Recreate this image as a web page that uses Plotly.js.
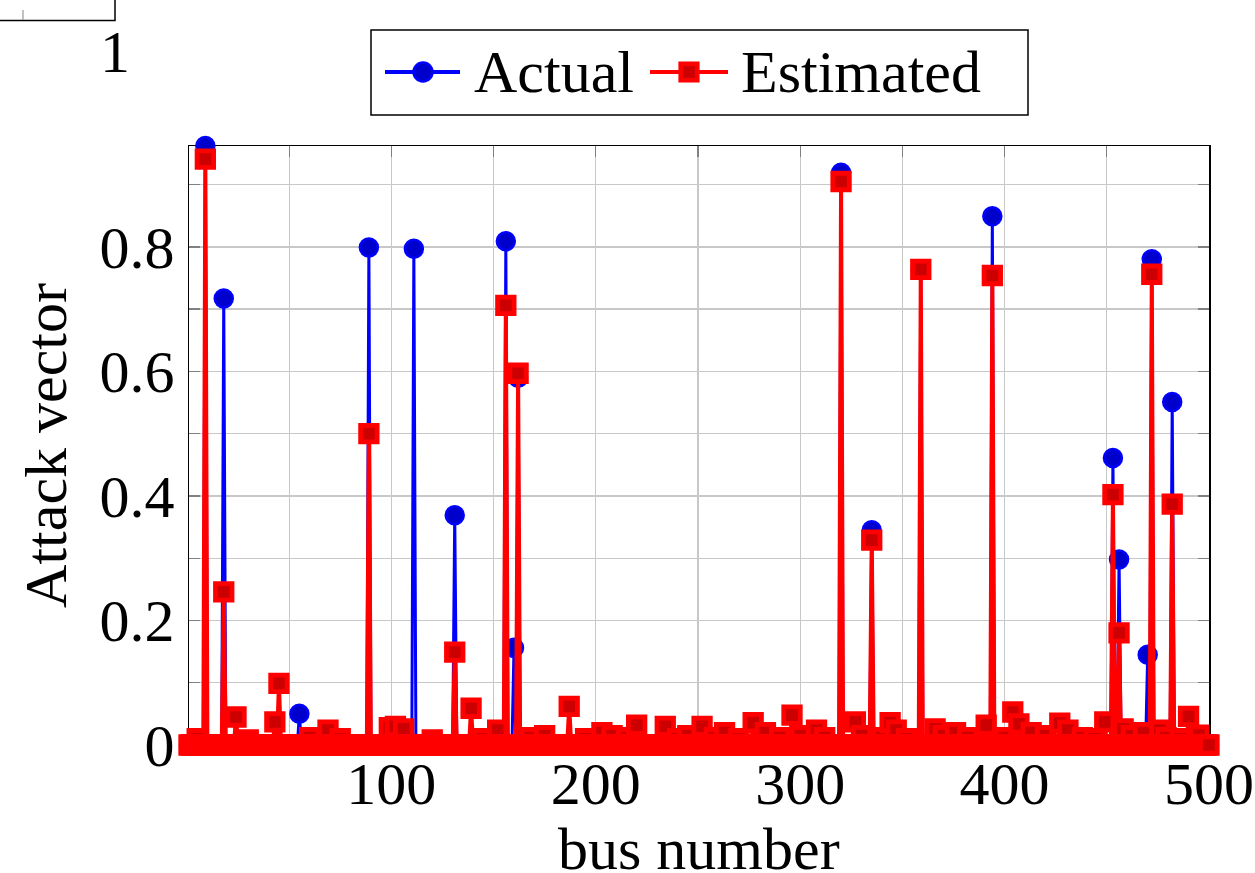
<!DOCTYPE html>
<html>
<head>
<meta charset="utf-8">
<script src="https://cdn.plot.ly/plotly-3.0.1.min.js"></script>
<style>
  html, body { margin: 0; padding: 0; background: #ffffff; }
  #chart { width: 1255px; height: 873px; }
</style>
</head>
<body>
<div id="chart"></div>
<script>
// ---------------- data ----------------
const busCount = 500;                       // buses 1..500
const seriesNames = ["Actual", "Estimated"];
const xTitle = "bus number";
const yTitle = "Attack vector";
const xTickValues = [100, 200, 300, 400, 500];
const xTickLabels = ["100", "200", "300", "400", "500"];
const yTickValues = [0, 0.2, 0.4, 0.6, 0.8];
const yTickLabels = ["0", "0.2", "0.4", "0.6", "0.8"];

// Actual attack vector: non-zero entries (all other buses are 0)
const actualBus = [9, 18, 55, 89, 111, 131, 156, 160, 162, 320, 335, 359, 394, 453, 456, 470, 472, 482];
const actualVal = [0.962, 0.717, 0.050, 0.799, 0.797, 0.369, 0.809, 0.156, 0.590, 0.919, 0.345, 0.763, 0.849, 0.461, 0.298, 0.145, 0.780, 0.551];

// Estimated attack vector: non-zero entries (all other buses are 0)
const estimatedBus = [5, 9, 18, 24, 30, 43, 45, 60, 69, 75, 89, 99, 102, 106, 120, 131, 139, 145, 152, 156, 162, 168, 175, 187, 195, 203, 208, 215, 220, 234, 240, 245, 252, 258, 263, 270, 277, 283, 290, 296, 300, 308, 312, 320, 327, 330, 335, 340, 344, 347, 352, 359, 366, 370, 376, 382, 391, 394, 400, 404, 407, 413, 420, 427, 431, 438, 444, 449, 453, 456, 458, 462, 468, 472, 476, 479, 482, 486, 490, 495];
const estimatedVal = [0.010, 0.941, 0.246, 0.045, 0.008, 0.037, 0.099, 0.012, 0.024, 0.010, 0.500, 0.028, 0.030, 0.026, 0.008, 0.149, 0.059, 0.010, 0.024, 0.706, 0.597, 0.012, 0.015, 0.062, 0.010, 0.020, 0.015, 0.012, 0.032, 0.030, 0.010, 0.015, 0.030, 0.012, 0.020, 0.010, 0.036, 0.020, 0.012, 0.048, 0.015, 0.024, 0.012, 0.905, 0.037, 0.015, 0.329, 0.012, 0.036, 0.024, 0.010, 0.764, 0.026, 0.015, 0.020, 0.012, 0.032, 0.754, 0.012, 0.053, 0.034, 0.020, 0.015, 0.035, 0.024, 0.012, 0.010, 0.037, 0.402, 0.180, 0.026, 0.015, 0.020, 0.756, 0.024, 0.012, 0.387, 0.010, 0.046, 0.016];

// ---------------- build full series from the sparse tables ----------------
function fullSeries(busList, valList) {
  const y = new Array(busCount).fill(0);
  busList.forEach((b, i) => { y[b - 1] = valList[i]; });
  return y;
}
const buses = Array.from({length: busCount}, (_, i) => i + 1);
const actual = fullSeries(actualBus, actualVal);
const estimated = fullSeries(estimatedBus, estimatedVal);

// ---------------- layout helpers ----------------
const W = 1255, H = 873;
const M = {l: 189, r: 46, t: 146, b: 128};
const PW = W - M.l - M.r, PH = H - M.t - M.b;
const px = x => (x - M.l) / PW;          // pixel x -> paper x
const py = y => (H - M.b - y) / PH;      // pixel y -> paper y

const FONT = "Liberation Serif, Times New Roman, serif";
const FS = 60;
const BLUE = "#0000ff", BLUE_FILL = "#0000cc", RED = "#ff0000", RED_FILL = "#cc0000";
const GRID = "#c8c8c8", TICK = "#808080";

const traces = [
  {
    type: "scatter", mode: "lines+markers", name: seriesNames[0],
    x: buses, y: actual, cliponaxis: false,
    line: {color: BLUE, width: 3},
    marker: {symbol: "circle", size: 18, color: BLUE_FILL, line: {color: BLUE, width: 2.5}}
  },
  {
    type: "scatter", mode: "lines+markers", name: seriesNames[1],
    x: buses, y: estimated, cliponaxis: false,
    line: {color: RED, width: 4},
    marker: {symbol: "square", size: 16.5, color: RED_FILL, line: {color: RED, width: 4.8}}
  }
];

const axisCommon = {
  showgrid: true, gridcolor: GRID, gridwidth: 1.3,
  ticks: "inside", ticklen: 11, tickcolor: TICK, tickwidth: 1.3,
  showline: true, linecolor: "#000000", linewidth: 1.5, mirror: "allticks",
  zeroline: false, layer: "below traces",
  tickfont: {family: FONT, size: FS, color: "#000000"}
};

const legendY = 72;
const shapes = [
  // legend frame
  {type: "rect", xref: "paper", yref: "paper", x0: px(371), x1: px(1028), y0: py(115), y1: py(30),
   line: {color: "#000000", width: 1.5}, fillcolor: "#ffffff"},
  // legend sample: Actual
  {type: "line", xref: "paper", yref: "paper", x0: px(385), x1: px(460), y0: py(legendY), y1: py(legendY),
   line: {color: BLUE, width: 4}},
  {type: "circle", xref: "paper", yref: "paper", xsizemode: "pixel", ysizemode: "pixel",
   xanchor: px(423), yanchor: py(legendY), x0: -9.5, x1: 9.5, y0: -9.5, y1: 9.5,
   fillcolor: BLUE_FILL, line: {color: BLUE, width: 2.5}},
  // legend sample: Estimated
  {type: "line", xref: "paper", yref: "paper", x0: px(650), x1: px(728), y0: py(legendY), y1: py(legendY),
   line: {color: RED, width: 4}},
  {type: "rect", xref: "paper", yref: "paper", xsizemode: "pixel", ysizemode: "pixel",
   xanchor: px(689), yanchor: py(legendY), x0: -8.2, x1: 8.2, y0: -8.2, y1: 8.2,
   fillcolor: RED_FILL, line: {color: RED, width: 4.8}},
  // stray axis fragment at top-left
  {type: "rect", xref: "paper", yref: "paper", x0: px(-20), x1: px(115), y0: py(20.5), y1: py(-20),
   line: {color: "#000000", width: 1.5}},
  {type: "line", xref: "paper", yref: "paper", x0: px(23), x1: px(23), y0: py(20), y1: py(10),
   line: {color: "#a0a0a0", width: 1.3}}
];

const annotations = [
  {xref: "paper", yref: "paper", x: px(472), y: py(legendY), xanchor: "left", yanchor: "middle",
   text: seriesNames[0], showarrow: false, font: {family: FONT, size: FS, color: "#000000"}},
  {xref: "paper", yref: "paper", x: px(739), y: py(legendY), xanchor: "left", yanchor: "middle",
   text: seriesNames[1], showarrow: false, font: {family: FONT, size: FS, color: "#000000"}},
  {xref: "paper", yref: "paper", x: px(115), y: py(52), xanchor: "center", yanchor: "middle",
   text: "1", showarrow: false, font: {family: FONT, size: FS, color: "#000000"}},
  // x axis title, below the tick labels
  {xref: "paper", yref: "paper", x: 0.5, y: py(849), xanchor: "center", yanchor: "middle",
   text: xTitle, showarrow: false, font: {family: FONT, size: FS, color: "#000000"}}
];

const layout = {
  width: W, height: H,
  margin: {l: M.l, r: M.r, t: M.t, b: M.b, pad: 0},
  paper_bgcolor: "#ffffff", plot_bgcolor: "#ffffff",
  showlegend: false,
  xaxis: Object.assign({}, axisCommon, {
    range: [1, busCount], tick0: 0, dtick: 100,
    tickvals: xTickValues, ticktext: xTickLabels,
    minor: {tick0: 0, dtick: 50, showgrid: true, gridcolor: GRID, gridwidth: 1.3,
            ticks: "inside", ticklen: 11, tickcolor: TICK, tickwidth: 1.3},
    ticklabelstandoff: -15
  }),
  yaxis: Object.assign({}, axisCommon, {
    range: [0, 0.962], tick0: 0, dtick: 0.2,
    tickvals: yTickValues, ticktext: yTickLabels,
    minor: {tick0: 0, dtick: 0.1, showgrid: true, gridcolor: GRID, gridwidth: 1.3,
            ticks: "inside", ticklen: 11, tickcolor: TICK, tickwidth: 1.3},
    ticklabelstandoff: 1,
    title: {text: yTitle, font: {family: FONT, size: FS, color: "#000000"}, standoff: 13}
  }),
  shapes: shapes,
  annotations: annotations
};

Plotly.newPlot("chart", traces, layout, {staticPlot: true, displayModeBar: false});
</script>
</body>
</html>
